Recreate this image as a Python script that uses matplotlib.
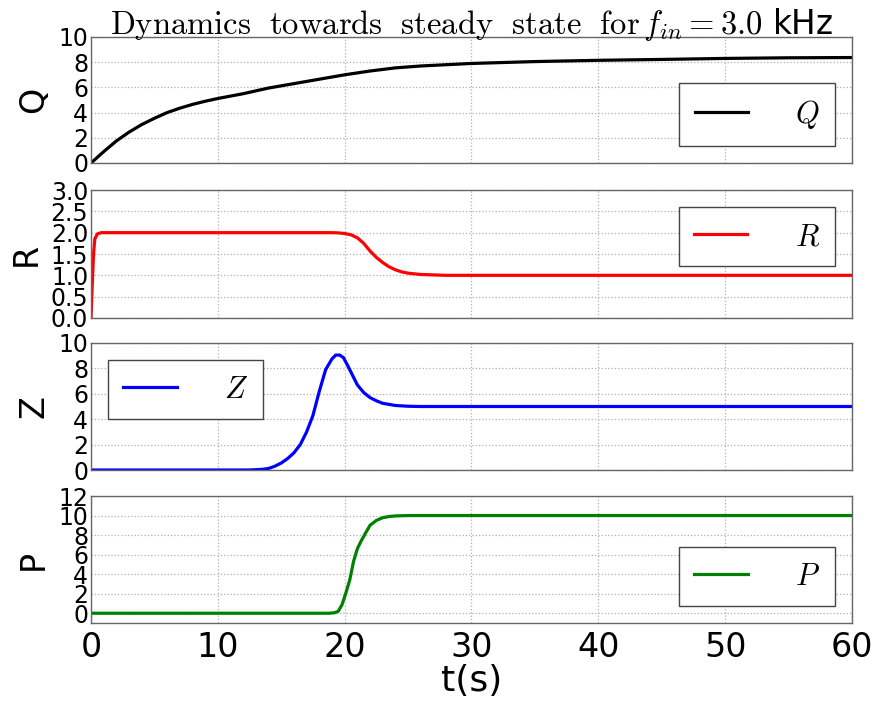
import matplotlib
matplotlib.use("Agg")
import matplotlib.pyplot as plt
import numpy as np

plt.rcParams['mathtext.fontset'] = 'cm'
plt.rcParams['font.family'] = ['DejaVu Sans']

# ---- data ----
t_Q = [0, 1, 2, 3, 4, 5, 6, 7, 8, 9, 10, 12, 14, 16, 18, 20, 22, 24, 26, 28, 30, 35, 40, 45, 50, 55, 60]
Q = [0, 0.9, 1.75, 2.45, 3.05, 3.55, 4.0, 4.35, 4.65, 4.9, 5.12, 5.5, 5.95, 6.3, 6.65, 7.0, 7.3, 7.55, 7.7, 7.8, 7.9, 8.05, 8.15, 8.22, 8.3, 8.35, 8.37]

t_R = [0, 0.1, 0.2, 0.3, 0.5, 0.8, 1, 19, 19.5, 20, 20.5, 21, 21.5, 22, 22.5, 23, 23.5, 24, 24.5, 25, 26, 27, 28, 30, 60]
R = [0, 0.8, 1.5, 1.85, 1.97, 2.0, 2.0, 2.0, 1.995, 1.98, 1.95, 1.88, 1.75, 1.57, 1.42, 1.3, 1.2, 1.13, 1.08, 1.05, 1.02, 1.01, 1.0, 1.0, 1.0]

t_Z = [0, 12.5, 13.5, 14.0, 14.5, 15.0, 15.5, 16.0, 16.5, 17.0, 17.5, 18.0, 18.5, 19.0, 19.3, 19.6, 19.9, 20.2, 20.6, 21.0, 21.5, 22.0, 22.5, 23.0, 24.0, 25.0, 26, 28, 60]
Z = [0, 0, 0.05, 0.12, 0.3, 0.55, 0.9, 1.35, 2.0, 3.0, 4.3, 6.2, 7.9, 8.75, 9.05, 9.05, 8.85, 8.3, 7.5, 6.7, 6.1, 5.7, 5.45, 5.25, 5.08, 5.02, 5.0, 5.0, 5.0]

t_P = [0, 18.8, 19.2, 19.5, 19.8, 20.1, 20.4, 20.7, 21.0, 21.3, 21.6, 22.0, 22.5, 23.0, 23.5, 24.0, 25, 26, 60]
P = [0, 0, 0.05, 0.2, 0.9, 2.1, 3.4, 5.3, 6.6, 7.4, 8.1, 9.0, 9.5, 9.78, 9.9, 9.96, 10, 10, 10]

x_ticks = [0, 10, 20, 30, 40, 50, 60]
title = r"$\mathrm{Dynamics\ \ towards\ \ steady\ \ state\ \ for}\,f_{in}=3.0$ kHz"

panels = [
    dict(t=t_Q, y=Q, color='black', name='Q', lab=r'$Q$', ylim=(0, 10), yticks=[0, 2, 4, 6, 8, 10], loc='lower right'),
    dict(t=t_R, y=R, color='red', name='R', lab=r'$R$', ylim=(0, 3), yticks=[0, 0.5, 1.0, 1.5, 2.0, 2.5, 3.0], loc='upper right'),
    dict(t=t_Z, y=Z, color='blue', name='Z', lab=r'$Z$', ylim=(0, 10), yticks=[0, 2, 4, 6, 8, 10], loc='upper left'),
    dict(t=t_P, y=P, color='green', name='P', lab=r'$P$', ylim=(-1, 12), yticks=[0, 2, 4, 6, 8, 10, 12], loc='lower right'),
]

fig = plt.figure(figsize=(8.79, 7.02), dpi=100)
L, Rr = 91 / 879, 852 / 879
tops = [37, 190, 343, 496]
bots = [163, 318, 470, 623]
axes = []
for i, p in enumerate(panels):
    ax = fig.add_axes([L, 1 - bots[i] / 702, Rr - L, (bots[i] - tops[i]) / 702],
                      sharex=axes[0] if axes else None)
    axes.append(ax)
    ax.plot(p['t'], p['y'], color=p['color'], lw=2.3, label=p['lab'])
    ax.set_xlim(0, 60)
    ax.set_ylim(*p['ylim'])
    ax.set_yticks(p['yticks'])
    if p['name'] == 'R':
        ax.set_yticklabels([f"{v:.1f}" for v in p['yticks']])
    ax.set_xticks(x_ticks)
    ax.grid(True, linestyle=':', color='#b0b0b0', lw=0.9)
    ax.tick_params(axis='y', labelsize=17, length=0, pad=2)
    ax.tick_params(axis='x', labelsize=24, length=0, pad=6)
    for s in ax.spines.values():
        s.set_color('#666666')
        s.set_linewidth(1.0)
    ax.set_ylabel(p['name'], fontsize=24, labelpad=6)
    leg = ax.legend(loc=p['loc'], fontsize=22, handlelength=1.75, handletextpad=1.55,
                    borderpad=0.5, fancybox=False, framealpha=1, borderaxespad=0.55)
    leg.get_frame().set_edgecolor('#444444')
    leg.get_frame().set_linewidth(1.0)
    if i < 3:
        plt.setp(ax.get_xticklabels(), visible=False)

axes[-1].set_xlabel('t(s)', fontsize=26, labelpad=0)
fig.text(0.5 * (L + Rr), 1 - 34 / 702, title, ha='center', va='baseline', fontsize=23.5)

fig.savefig('out.png', dpi=100)
